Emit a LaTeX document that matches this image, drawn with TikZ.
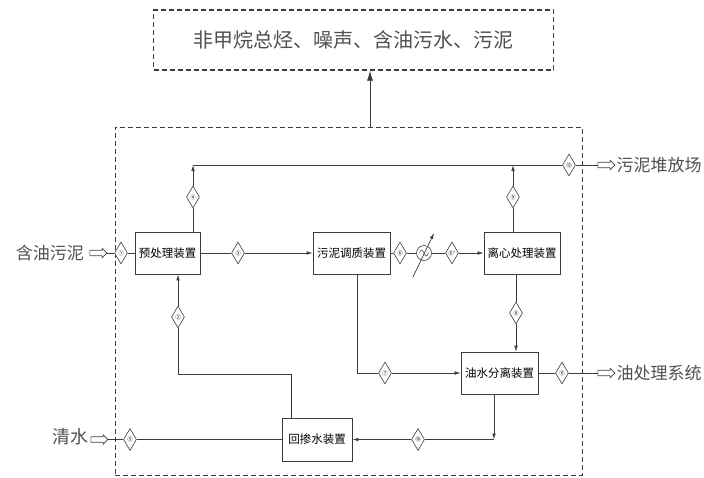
\documentclass[tikz,border=0pt]{standalone}
\usepackage{fontspec}
\newfontfamily\cjk{Noto Sans CJK SC}
\usetikzlibrary{arrows.meta,calc,shapes.geometric,shapes.arrows}
\definecolor{linegray}{HTML}{3C3C3C}
\definecolor{textgray}{HTML}{505050}

\begin{document}
\begin{tikzpicture}[x=1pt,y=-1pt,font=\cjk,>={Latex[length=6pt,width=3.6pt]},
    line/.style={draw=linegray,line width=0.7pt},
    unit/.style={draw=linegray,line width=0.8pt,minimum height=42pt,inner sep=1pt,
      font=\cjk\fontsize{11.5}{12}\selectfont},
    tag/.style={diamond,draw=linegray,line width=0.6pt,fill=white,minimum width=13pt,
      minimum height=22pt,inner sep=0pt,font=\cjk\fontsize{5.5}{6}\selectfont},
    outlbl/.style={text=textgray,font=\cjk\fontsize{17}{17}\selectfont},
    hollow/.style={single arrow,draw=linegray,line width=0.7pt,minimum height=17pt,
      minimum width=9pt,single arrow head extend=2pt,inner xsep=0pt,inner ysep=2.4pt},
    zone/.style={draw=linegray,line width=0.8pt,dash pattern=on 5pt off 3pt}]
  \useasboundingbox (0,0) rectangle (704,477);

  % emissions and plant boundary
  \node[zone,line width=1.3pt,minimum width=400pt,minimum height=60pt,text=textgray,
    font=\cjk\fontsize{20}{20}\selectfont] (emis) at (353.5,40) {非甲烷总烃、噪声、含油污水、污泥};
  \node[zone,minimum width=467pt,minimum height=348pt] (plant) at (348.5,301) {};
  \coordinate (vent) at (370,127);
  \draw[line,-{Latex[length=10pt,width=6pt]}] (vent) -- (vent |- emis.south);

  % units
  \node[unit,minimum width=65pt] (pre) at (167.5,253) {预处理装置};
  \node[unit,minimum width=77pt] (cond) at (351.5,253) {污泥调质装置};
  \node[unit,minimum width=76pt] (cent) at (522,253) {离心处理装置};
  \node[unit,minimum width=77pt] (sep) at (499.5,373) {油水分离装置};
  \node[unit,minimum width=70pt,minimum height=43pt] (back) at (317,439.5) {回掺水装置};
  \node[circle,draw=linegray,line width=0.6pt,minimum size=15pt,inner sep=0pt] (pump) at (424,253) {};

  % stream tags
  \node[tag] (t1) at (121,253) {①};
  \node[tag] (t2) at (178,317) {②};
  \node[tag] (t3) at (238,253) {③};
  \node[tag] (t4) at (193,197) {④};
  \node[tag] (t5) at (130,439.5) {⑤};
  \node[tag] (t6) at (400,253) {⑥};
  \node[tag] (t6b) at (452,253) {⑥'};
  \node[tag] (t7) at (385,373) {⑦};
  \node[tag] (t8) at (516,313) {⑧};
  \node[tag] (t9) at (513,197) {⑨};
  \node[tag] (t10) at (418,439.5) {⑩};
  \node[tag] (t11) at (562,373) {⑪};
  \node[tag] (t12) at (569,165) {⑫};

  % inputs and outputs
  \node[outlbl] (feed) at (50,253) {含油污泥};
  \node[hollow] (feedarr) at (97,253) {};
  \node[outlbl,font=\cjk\fontsize{18}{18}\selectfont] (water) at (70,437) {清水};
  \node[hollow] (waterarr) at (98,439.5) {};
  \node[hollow] (slgarr) at (605,165) {};
  \node[outlbl] (slg) at (659,165) {污泥堆放场};
  \node[hollow] (oilarr) at (605,373) {};
  \node[outlbl] (oil) at (659,373) {油处理系统};

  \coordinate (ret4) at (193,165);
  \coordinate (ret9) at (513,165);
  \coordinate (dn7) at ([xshift=5.5pt]cond.south);
  \coordinate (corner) at (494,439.5);
  \coordinate (bend) at (178,374);

  % flows
  \draw[line] (feedarr) -- (t1) -- (pre);
  \draw[line] (pre) -- (t3);
  \draw[line,->] (t3) -- (cond);
  \draw[line] (pre.north -| t4) -- (t4);
  \draw[line,->] (t4) -- (ret4);
  \draw[line] (ret4) -- (t12);
  \draw[line] (t12) -- (slgarr);
  \draw[line] (cent.north -| t9) -- (t9);
  \draw[line,->] (t9) -- (ret9);
  \draw[line] (cond) -- (t6) -- (pump) -- (t6b);
  \draw[line,->] (t6b) -- (cent);
  \draw[line,line width=0.5pt] ($(pump)+(-4.5,0)$) sin ++(2.25,-3) cos ++(2.25,3)
    sin ++(2.25,3) cos ++(2.25,-3);
  \draw[line,->] ($(pump)+(-11,24)$) -- ($(pump)+(10,-20)$);
  \draw[line] (cent.south -| t8) -- (t8);
  \draw[line,->] (t8) -- (sep.north -| t8);
  \draw[line] (dn7) |- (t7);
  \draw[line,->] (t7) -- (sep.west |- t7);
  \draw[line] (sep) -- (t11);
  \draw[line] (t11) -- (oilarr);
  \draw[line,->] (sep.south -| corner) -- (corner);
  \draw[line] (corner) -- (t10);
  \draw[line,->] (t10) -- (back.east |- t10);
  \draw[line] (waterarr) -- (t5) -- (back);
  \draw[line] ([xshift=-26pt]back.north) |- (bend) -- (t2);
  \draw[line,->] (t2) -- (pre.south -| t2);
\end{tikzpicture}
\end{document}
